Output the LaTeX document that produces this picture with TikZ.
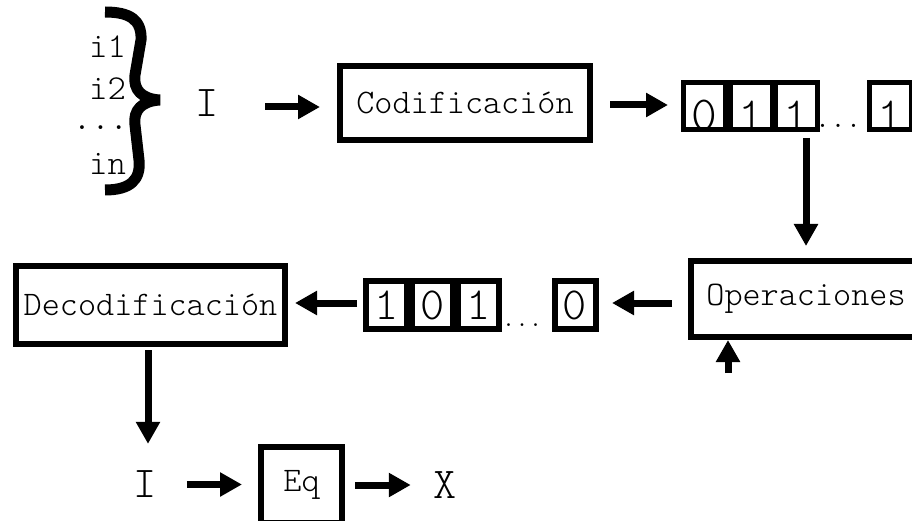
\documentclass[tikz,border=0pt]{standalone}
\usepackage{fontspec}
\setmainfont{Latin Modern Mono Light}
\usetikzlibrary{arrows.meta}
\begin{document}
\begin{tikzpicture}[x=1pt,y=-1pt,
  blk/.style={draw, line width=6pt, inner sep=0pt, font=\fontsize{34.5}{40}\selectfont},
  bitbox/.style={draw, line width=5pt, minimum width=42pt, minimum height=47pt, inner sep=0pt},
  lowbit/.style={draw, line width=6pt, minimum width=41pt, minimum height=48pt, inner sep=0pt},
  topdigit/.style={font=\fontsize{49}{54}\selectfont, inner sep=0pt},
  lowdigit/.style={font=\fontsize{46}{52}\selectfont, inner sep=0pt},
  lbl/.style={font=\fontsize{35}{40}\selectfont, inner sep=0pt},
  big/.style={font=\fontsize{44}{50}\selectfont, inner sep=0pt},
  arr/.style={line width=7pt, -{Triangle[length=22pt,width=23pt]}},
]
\useasboundingbox (0,0) rectangle (912,521);
\clip (0,0) rectangle (912,521);

% input components and the brace gathering them
\node[lbl, anchor=base] (i1) at (107.5,58) {i1};
\node[lbl, anchor=base] (i2) at (107.5,100) {i2};
\node[lbl, anchor=base] (idots) at (100.5,130) {...};
\node[lbl, anchor=base] (in) at (107.5,175) {in};
\draw[line width=11pt, line cap=butt, line join=miter]
  (105,12) .. controls (130,12) and (142,20) .. (141,40) -- (135,75)
  .. controls (133,90) and (142,99) .. (160,100)
  .. controls (142,101) and (133,110) .. (135,125) -- (139,160)
  .. controls (141,180) and (130,190) .. (105,190);

% top row
\node[big] (Itop) at (207.5,103.5) {I};
\node[blk, minimum width=250pt, minimum height=74pt] (cod) at (465,103) {Codificación};

\node[topdigit] (d1) at (704.5,116) {0};
\node[topdigit] (d2) at (751.5,116) {1};
\node[topdigit] (d3) at (796,116) {1};
\node[topdigit] (d4) at (890,116) {1};
\node[bitbox] (t1) at (704.5,106) {};
\node[bitbox] (t2) at (751.5,106) {};
\node[bitbox] (t3) at (796,106) {};
\node[bitbox] (t4) at (890,106) {};
\node[font=\fontsize{29.5}{34}\selectfont, inner sep=0pt, anchor=base] (tdots) at (838,128) {...};

\draw[arr, shorten <=46pt, shorten >=17pt] ([yshift=-3.5pt]Itop.east) -- ([yshift=-3.5pt]Itop.east -| cod.west);
\draw[arr, shorten <=17pt, shorten >=13pt] ([yshift=-2pt]cod.east) -- ([yshift=-2pt]cod.east -| t1.west);

% operations
\node[blk, minimum width=230pt, minimum height=76pt] (ops) at (806,299) {Operaciones};
\draw[arr, shorten <=6pt, shorten >=12pt] (t3.south -| ops.north) -- (ops.north);
\coordinate (feed) at (728,373);
\draw[arr] (feed) -- (feed |- ops.south);

% middle row
\node[lowdigit] (e1) at (386.5,305) {1};
\node[lowdigit] (e2) at (432.5,305) {0};
\node[lowdigit] (e3) at (478.5,305) {1};
\node[lowdigit] (e4) at (575,305) {0};
\node[lowbit] (b1) at (386.5,305) {};
\node[lowbit] (b2) at (432.5,305) {};
\node[lowbit] (b3) at (478.5,305) {};
\node[lowbit] (b4) at (575,305) {};
\node[font=\fontsize{25.7}{30}\selectfont, inner sep=0pt, anchor=base] (bdots) at (522,326) {...};

\node[blk, minimum width=269pt, minimum height=78pt] (dec) at (150.5,305) {Decodificación};

\draw[arr, shorten <=16pt, shorten >=13.5pt] ([yshift=-4pt]ops.west) -- ([yshift=-4pt]ops.west -| b4.east);
\draw[arr, shorten <=6pt, shorten >=7pt] ([yshift=2pt]b1.west) -- ([yshift=2pt]b1.west -| dec.east);

% bottom row
\node[big] (Ibot) at (145,484.5) {I};
\node[blk, minimum width=81pt, minimum height=76pt] (eq) at (301.5,485) {Eq};
\node[big] (X) at (445.5,485) {X};

\draw[arr, shorten <=3pt, shorten >=27pt] ([xshift=-2.5pt]dec.south) -- ([xshift=-2.5pt]dec.south |- Ibot.north);
\draw[arr, shorten <=30pt, shorten >=16pt] (Ibot.east) -- (Ibot.east -| eq.west);
\draw[arr, shorten <=10pt, shorten >=23pt] (eq.east) -- (eq.east -| X.west);
\end{tikzpicture}
\end{document}
